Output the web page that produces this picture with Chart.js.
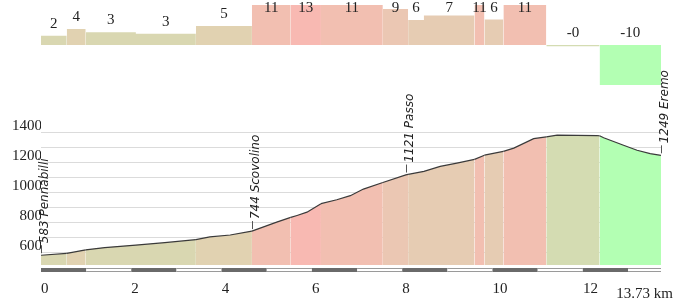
<!DOCTYPE html>
<html>
<head>
<meta charset="utf-8">
<title>Profilo altimetrico</title>
<script src="https://cdn.jsdelivr.net/npm/chart.js@4.4.0/dist/chart.umd.min.js"></script>
<style>
  html, body { margin: 0; padding: 0; background: #fff; }
  #wrap { width: 689px; height: 303px; }
</style>
</head>
<body>
<div id="wrap"><canvas id="profile" width="689" height="303"></canvas></div>
<script>
// elevation profile, km / m
const profileKm = [0, 0.57, 0.99, 1.41, 2.10, 2.74, 3.43, 3.74, 4.19, 4.67, 5.22, 5.53, 5.67, 5.89, 6.20, 6.55,
  6.85, 7.14, 7.57, 8.08, 8.13, 8.48, 8.84, 9.21, 9.60, 9.82, 10.24, 10.47, 10.91, 11.19, 11.43, 12.31,
  12.37, 12.46, 12.90, 13.20, 13.49, 13.73];
const profileElev = [583, 595, 619, 634, 651, 667, 687, 705, 718, 744, 804, 835, 848, 870, 927, 953,
  980, 1024, 1068, 1119, 1122, 1142, 1175, 1197, 1222, 1250, 1275, 1297, 1360, 1372, 1383, 1381,
  1379, 1366, 1316, 1283, 1260, 1249];

// gradient sections: boundaries (km) and mean slope (%)
const gradeBounds = [0, 0.57, 0.99, 2.10, 3.43, 4.67, 5.53, 6.20, 7.57, 8.13, 8.48, 9.60, 9.82, 10.24, 11.19, 12.37, 13.73];
const gradeValues = [2.3, 4, 3.2, 2.8, 4.75, 11, 13, 11, 9, 6.25, 7.4, 11, 6.4, 11, -0.3, -10];

// named points
const markerKm = [0, 4.67, 8.08, 13.73];
const markerElev = [583, 744, 1121, 1249];
const markerNames = ['583 Pennabilli', '744 Scovolino', '1121 Passo', '1249 Eremo'];

const xTicks = [0, 2, 4, 6, 8, 10, 12];
const yGrid = [600, 700, 800, 900, 1000, 1100, 1200, 1300, 1400];
const yLabels = [600, 800, 1000, 1200, 1400];
const totalKm = 13.73;

const SERIF = '"Liberation Serif", "Times New Roman", serif';

function gradeColor(g) {
  if (g <= -5) return '#b3ffb3';
  if (g < 1) return '#d4dcb2';
  if (g < 3.5) return '#d9d7b1';
  if (g < 5.5) return '#e1d2b1';
  if (g < 8) return '#e6ccb3';
  if (g < 10) return '#ebc7b3';
  if (g < 12) return '#f2bfb1';
  return '#f8b9b2';
}

function sectionAt(km) {
  for (let i = 0; i < gradeValues.length; i++) {
    if (km < gradeBounds[i + 1]) return i;
  }
  return gradeValues.length - 1;
}

function gradeLabel(v) {
  const r = Math.abs(Math.round(v));
  return (v < 0 ? '-' : '') + r;
}

const profileData = profileKm.map((k, i) => ({ x: k, y: profileElev[i] }));
const gradeData = gradeBounds.map((b, i) => ({ x: b, y: gradeValues[Math.min(i, gradeValues.length - 1)] }));

// labels, markers, distance bar
const overlay = {
  id: 'overlay',
  afterDraw(chart) {
    const ctx = chart.ctx;
    const xs = chart.scales.x, ys = chart.scales.y, gs = chart.scales.g;
    const area = chart.chartArea;
    ctx.save();

    // slope numbers over the bars
    ctx.font = '15px ' + SERIF;
    ctx.fillStyle = '#222';
    ctx.textAlign = 'center';
    ctx.textBaseline = 'middle';
    const base = gs.getPixelForValue(0);
    gradeValues.forEach((v, i) => {
      const cx = (xs.getPixelForValue(gradeBounds[i]) + xs.getPixelForValue(gradeBounds[i + 1])) / 2;
      const top = Math.min(gs.getPixelForValue(v), base);
      const ty = Math.max(top - 12, area.top + 3.5);
      ctx.fillText(gradeLabel(v), cx, ty);
    });

    // place names
    markerKm.forEach((k, i) => {
      const px = Math.round(xs.getPixelForValue(k)) + 0.5;
      const py = ys.getPixelForValue(markerElev[i]);
      ctx.strokeStyle = '#555';
      ctx.lineWidth = 1;
      ctx.beginPath();
      ctx.moveTo(px, py - 2);
      ctx.lineTo(px, py - 10);
      ctx.stroke();
      ctx.save();
      ctx.translate(px + 3, py - 12);
      ctx.rotate(-Math.PI / 2);
      ctx.font = 'italic 12px "DejaVu Sans", Verdana, sans-serif';
      ctx.fillStyle = '#222';
      ctx.textAlign = 'left';
      ctx.textBaseline = 'middle';
      ctx.fillText(markerNames[i], 0, 0);
      ctx.restore();
    });

    // km scale bar
    const y0 = area.bottom + 3;
    for (let k = 0; k < Math.ceil(totalKm); k++) {
      const a = xs.getPixelForValue(k);
      const b = xs.getPixelForValue(Math.min(k + 1, totalKm));
      if (k % 2 === 0) {
        ctx.fillStyle = '#6a6a6a';
        ctx.fillRect(a, y0, b - a, 4);
      } else {
        ctx.fillStyle = '#9a9a9a';
        ctx.fillRect(a, y0, b - a, 4);
        ctx.fillStyle = '#fff';
        ctx.fillRect(a, y0 + 1, b - a, 2);
      }
    }

    ctx.font = '15px ' + SERIF;
    ctx.fillStyle = '#222';
    ctx.textAlign = 'right';
    ctx.textBaseline = 'alphabetic';
    ctx.fillText(totalKm + ' km', area.right + 12, 298);
    ctx.restore();
  }
};

new Chart(document.getElementById('profile'), {
  type: 'line',
  data: {
    datasets: [
      {
        label: 'Pendenza',
        data: gradeData,
        yAxisID: 'g',
        stepped: true,
        fill: 'origin',
        borderWidth: 0,
        borderColor: 'rgba(0,0,0,0)',
        backgroundColor: '#ddd',
        pointRadius: 0,
        segment: {
          backgroundColor: c => gradeColor(gradeValues[c.p0DataIndex])
        }
      },
      {
        label: 'Altitudine',
        data: profileData,
        yAxisID: 'y',
        fill: 'start',
        borderWidth: 1.2,
        borderColor: '#3a3a3a',
        backgroundColor: '#ddd',
        pointRadius: 0,
        tension: 0,
        segment: {
          backgroundColor: c => gradeColor(gradeValues[sectionAt((c.p0.parsed.x + c.p1.parsed.x) / 2)])
        }
      }
    ]
  },
  options: {
    responsive: false,
    animation: false,
    events: [],
    layout: { padding: { top: 5, right: 28, left: 0, bottom: 0 } },
    plugins: { legend: { display: false }, tooltip: { enabled: false } },
    scales: {
      x: {
        type: 'linear',
        min: 0,
        max: totalKm,
        grid: { display: false },
        border: { display: false },
        afterBuildTicks: axis => { axis.ticks = xTicks.map(v => ({ value: v })); },
        afterFit: axis => { axis.height = 38; axis.paddingLeft = 0; axis.paddingRight = 0; },
        ticks: {
          align: 'start',
          padding: 7,
          autoSkip: false,
          maxRotation: 0,
          color: '#222',
          font: { family: SERIF, size: 15 }
        }
      },
      y: {
        position: 'left',
        min: 518,
        max: 2251,
        z: 1,
        grid: { color: 'rgba(0,0,0,0.14)', drawTicks: false },
        border: { display: false },
        afterBuildTicks: axis => { axis.ticks = yGrid.map(v => ({ value: v })); },
        afterFit: axis => { axis.width = 41; axis.paddingTop = 0; axis.paddingBottom = 0; },
        ticks: {
          padding: -1,
          labelOffset: -7,
          autoSkip: false,
          color: '#222',
          font: { family: SERIF, size: 15 },
          callback: v => yLabels.includes(v) ? String(v) : ''
        }
      },
      g: {
        display: false,
        min: -55,
        max: 10
      }
    }
  },
  plugins: [overlay]
});
</script>
</body>
</html>
